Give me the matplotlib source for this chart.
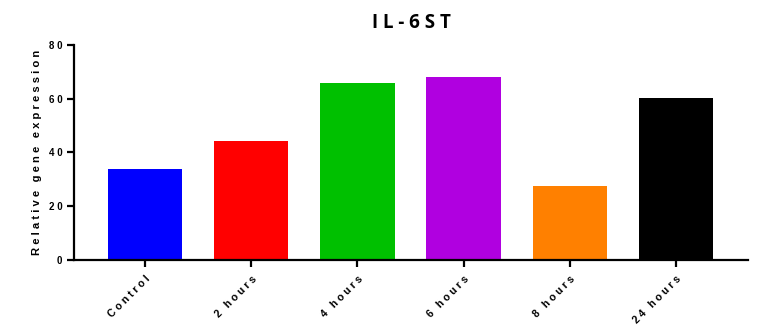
import numpy as np
import matplotlib
matplotlib.use('Agg')
import matplotlib.pyplot as plt

categories = ['Control', '2 hours', '4 hours', '6 hours', '8 hours', '24 hours']
values = [33.9, 44.2, 65.8, 68.1, 27.5, 60.2]
colors = ['#0000ff', '#ff0000', '#00c000', '#b000e0', '#ff8000', '#000000']
y_ticks = [0, 20, 40, 60, 80]


def spaced(s):
    # fake letter spacing like the original
    return ' '.join(s.replace(' ', '\u2009'))


plt.rcParams['font.family'] = ['Liberation Sans', 'DejaVu Sans']

fig = plt.figure(figsize=(7.66, 3.33), dpi=100)
ax = fig.add_axes([0.0966, 0.2192, 0.8799, 0.6457])

x = np.arange(len(categories))
ax.bar(x, values, width=0.7, color=colors)

ax.set_xlim(-0.67, len(categories) - 0.32)
ax.set_ylim(0, 80)
ax.set_yticks(y_ticks)
ax.set_yticklabels([spaced(str(t)) for t in y_ticks], fontsize=7, fontweight='bold')
ax.set_xticks(x)
ax.set_xticklabels([spaced(c) for c in categories], rotation=45, ha='right',
                   rotation_mode='anchor', fontsize=7.6, fontweight='bold')

for side in ['top', 'right']:
    ax.spines[side].set_visible(False)
for side in ['left', 'bottom']:
    ax.spines[side].set_linewidth(1.6)
ax.tick_params(width=1.6, length=5)
ax.tick_params(axis='x', pad=5)

ax.set_ylabel(spaced('Relative gene expression'), fontsize=8.1, fontweight='bold', labelpad=5)
ax.set_title(spaced('IL-6ST'), fontsize=13.5, fontweight='bold', pad=12, family=['Open Sans', 'DejaVu Sans'])

fig.savefig('out.png', dpi=100)
plt.close()
